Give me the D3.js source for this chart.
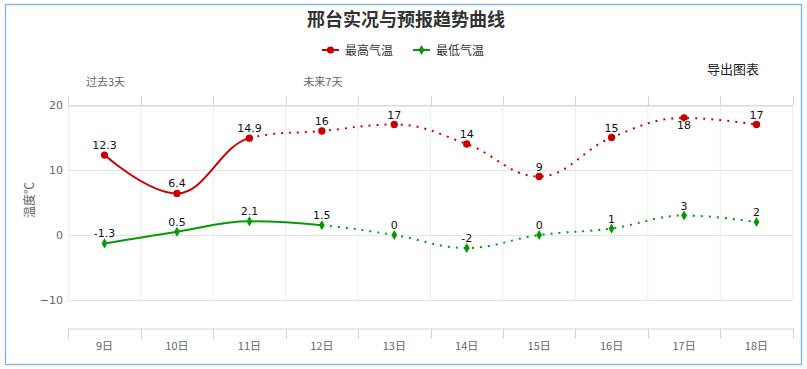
<!DOCTYPE html>
<html><head><meta charset="utf-8">
<script src="https://cdn.jsdelivr.net/npm/d3@7"></script>
<style>body{margin:0;background:#fff}svg{display:block}</style>
</head><body>
<svg id="c" width="807" height="369"></svg>
<script>
const categories = ["9日","10日","11日","12日","13日","14日","15日","16日","17日","18日"];
const highValues = [12.3, 6.4, 14.9, 16, 17, 14, 9, 15, 18, 17];
const lowValues  = [-1.3, 0.5, 2.1, 1.5, 0, -2, 0, 1, 3, 2];
const highSolidEnd = 2;   // index where observed (solid) part ends
const lowSolidEnd = 3;
const yTicks = [-10, 0, 10, 20];
const topLabels = [{cat:"9日", text:"过去3天"}, {cat:"12日", text:"未来7天"}];
const titleText = "邢台实况与预报趋势曲线";
const seriesNames = ["最高气温","最低气温"];
const colors = {high:"#c80000", low:"#089808"};

const svg = d3.select("#c");
const FONT = "'Noto Sans CJK SC','DejaVu Sans',sans-serif";
const L = 68.3, R = 792.7, T = 105, B = 300;
const x = d3.scaleBand().domain(categories).range([L, R]).padding(0);
const y = d3.scaleLinear().domain([-10, 20]).range([B, T]);

// border
svg.append("rect").attr("x",5.5).attr("y",4.5).attr("width",796).attr("height",360)
  .attr("fill","#fff").attr("stroke","#7fb2e5").attr("stroke-width",1.3);

// title
svg.append("text").attr("x",406).attr("y",26).attr("text-anchor","middle")
  .attr("font-family",FONT).attr("font-size",18).attr("font-weight","bold").attr("fill","#333").text(titleText);

// legend
const legend = [{name:seriesNames[0], color:colors.high, sym:"circle", x:322},
                {name:seriesNames[1], color:colors.low, sym:"diamond", x:413}];
legend.forEach(l=>{
  const g = svg.append("g");
  g.append("line").attr("x1",l.x).attr("x2",l.x+17).attr("y1",50).attr("y2",50).attr("stroke",l.color).attr("stroke-width",2);
  g.append("path").attr("transform",`translate(${l.x+8.5},50)`)
    .attr("d", d3.symbol(l.sym==="circle"?d3.symbolCircle:d3.symbolDiamond, l.sym==="circle"?40:30)()).attr("fill",l.color);
  g.append("text").attr("x",l.x+23).attr("y",54.5).attr("font-family",FONT).attr("font-size",12).attr("fill","#333").text(l.name);
});

// export text
svg.append("text").attr("x",733).attr("y",74).attr("text-anchor","middle").attr("font-family",FONT)
  .attr("font-size",13).attr("fill","#222").text("导出图表");

// vertical grid
const bounds = categories.map(c=>x(c)).concat([R]);
svg.append("g").selectAll("line").data(bounds).join("line")
  .attr("x1",d=>d).attr("x2",d=>d).attr("y1",T).attr("y2",B).attr("stroke","#eeeeee").attr("stroke-width",1);
// horizontal grid
svg.append("g").selectAll("line").data(yTicks).join("line")
  .attr("x1",L).attr("x2",R).attr("y1",d=>Math.round(y(d))+0.5).attr("y2",d=>Math.round(y(d))+0.5)
  .attr("stroke","#e3e3e3").attr("stroke-width",1);

// top axis (opposite)
const xTop = d3.axisTop(x).tickSize(0).tickFormat("");
const gTop = svg.append("g").attr("transform",`translate(0,${T+0.5})`).call(xTop);
gTop.select(".domain").attr("stroke","#c4d4ea");
svg.append("g").selectAll("line").data(bounds).join("line")
  .attr("x1",d=>Math.round(d)+0.5).attr("x2",d=>Math.round(d)+0.5).attr("y1",96).attr("y2",T).attr("stroke","#c4d4ea");
svg.append("g").selectAll("text").data(topLabels).join("text")
  .attr("x",d=>x(d.cat)+x.bandwidth()/2+1).attr("y",86).attr("text-anchor","middle")
  .attr("font-family",FONT).attr("font-size",11).attr("fill","#666").text(d=>d.text);

// bottom axis (offset)
const AX = 328.5;
const xBot = d3.axisBottom(x).tickSize(0).tickPadding(0);
const gBot = svg.append("g").attr("transform",`translate(0,${AX})`).call(xBot);
gBot.select(".domain").attr("stroke","#c4d4ea");
gBot.selectAll("text").attr("y",14).attr("font-family",FONT).attr("font-size",11).attr("fill","#666");
svg.append("g").selectAll("line").data(bounds).join("line")
  .attr("x1",d=>Math.round(d)+0.5).attr("x2",d=>Math.round(d)+0.5).attr("y1",AX).attr("y2",AX+10).attr("stroke","#c4d4ea");

// y axis labels
const yAx = d3.axisLeft(y).tickValues(yTicks).tickSize(0).tickPadding(0);
const gY = svg.append("g").attr("transform",`translate(63,0)`).call(yAx);
gY.select(".domain").remove();
gY.selectAll("text").attr("font-family","'DejaVu Sans',sans-serif").attr("font-size",11).attr("fill","#666").attr("dy","0.35em");
svg.append("text").attr("transform","translate(34,200) rotate(-90)").attr("text-anchor","middle")
  .attr("font-family",FONT).attr("font-size",12).attr("fill","#666").text("温度℃");

// Highcharts-like spline: returns segments between consecutive points
function splineSegments(pts){
  const sm = 1.5, den = sm+1;
  const c = pts.map((p,i)=>{
    if(i===0||i===pts.length-1) return null;
    const a=pts[i-1], n=pts[i+1];
    let lx=(sm*p[0]+a[0])/den, ly=(sm*p[1]+a[1])/den, rx=(sm*p[0]+n[0])/den, ry=(sm*p[1]+n[1])/den;
    if(rx!==lx){
      const corr=((ry-ly)*(rx-p[0]))/(rx-lx)+p[1]-ry;
      ly+=corr; ry+=corr;
      if(ly>a[1]&&ly>p[1]){ly=Math.max(a[1],p[1]);ry=2*p[1]-ly;}
      else if(ly<a[1]&&ly<p[1]){ly=Math.min(a[1],p[1]);ry=2*p[1]-ly;}
      if(ry>n[1]&&ry>p[1]){ry=Math.max(n[1],p[1]);ly=2*p[1]-ry;}
      else if(ry<n[1]&&ry<p[1]){ry=Math.min(n[1],p[1]);ly=2*p[1]-ry;}
    }
    return {lx,ly,rx,ry};
  });
  const segs=[];
  for(let i=1;i<pts.length;i++){
    const pc=c[i-1], cc=c[i];
    segs.push([pts[i-1], [pc?pc.rx:pts[i-1][0], pc?pc.ry:pts[i-1][1]], [cc?cc.lx:pts[i][0], cc?cc.ly:pts[i][1]], pts[i]]);
  }
  return segs;
}
function segPath(segs){
  const p = d3.path();
  p.moveTo(segs[0][0][0], segs[0][0][1]);
  segs.forEach(s=>p.bezierCurveTo(s[1][0],s[1][1],s[2][0],s[2][1],s[3][0],s[3][1]));
  return p.toString();
}
const cx = c=>x(c)+x.bandwidth()/2;
function drawSeries(values, solidEnd, color, sym){
  const pts = values.map((v,i)=>[cx(categories[i]), y(v)]);
  const segs = splineSegments(pts);
  svg.append("path").attr("d",segPath(segs.slice(0,solidEnd))).attr("fill","none").attr("stroke",color).attr("stroke-width",2);
  svg.append("path").attr("d",segPath(segs.slice(solidEnd))).attr("fill","none").attr("stroke",color).attr("stroke-width",2)
    .attr("stroke-dasharray","2,6");
  svg.append("g").selectAll("path").data(pts).join("path")
    .attr("transform",d=>`translate(${d[0]},${d[1]})`)
    .attr("d", d3.symbol(sym==="circle"?d3.symbolCircle:d3.symbolDiamond, sym==="circle"?42:30)()).attr("fill",color);
  return pts;
}
const hp = drawSeries(highValues, highSolidEnd, colors.high, "circle");
const lp = drawSeries(lowValues, lowSolidEnd, colors.low, "diamond");

function labels(values, pts){
  svg.append("g").selectAll("text").data(values).join("text")
    .attr("x",(d,i)=>pts[i][0]).attr("y",(d,i)=>{ const ty=pts[i][1]-6; return (ty-9<T)? pts[i][1]+11 : ty; })
    .attr("text-anchor","middle").attr("font-family","'DejaVu Sans',sans-serif").attr("font-size",11)
    .attr("fill","#111").attr("stroke","#fff").attr("stroke-width",2).attr("paint-order","stroke")
    .text(d=>String(d));
}
labels(highValues, hp);
labels(lowValues, lp);
</script>
</body></html>
